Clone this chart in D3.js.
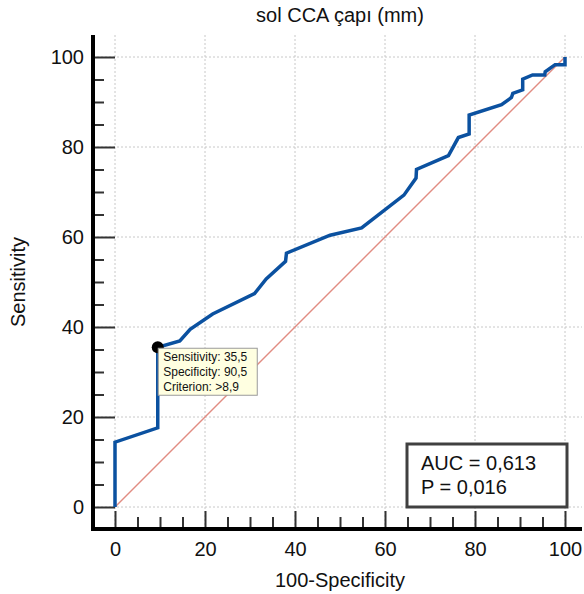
<!DOCTYPE html>
<html>
<head>
<meta charset="utf-8">
<script src="https://cdn.jsdelivr.net/npm/d3@7"></script>
<style>
  html, body { margin: 0; padding: 0; background: #fff; }
  svg { display: block; font-family: "Liberation Sans", Arial, sans-serif; }
</style>
</head>
<body>
<svg id="chart" width="584" height="594"></svg>
<script>
// ---- Data ----
const fpr = [0, 0, 9.5, 9.5, 14.4, 16.7, 21.7, 31.0, 33.6, 37.9, 38.1, 47.8, 54.8, 64.2, 66.9, 67.0, 74.1, 76.3, 78.7, 78.7, 85.9, 88.1, 88.4, 90.6, 90.6, 92.8, 95.5, 95.6, 97.8, 100, 100];
const tpr = [0, 14.4, 17.6, 35.5, 36.9, 39.5, 42.9, 47.4, 50.7, 54.6, 56.4, 60.4, 62.0, 69.3, 73.1, 75.0, 78.1, 82.1, 82.9, 87.1, 89.4, 91.0, 91.9, 92.7, 95.1, 96.0, 96.0, 96.7, 98.3, 98.3, 100];
const diagX = [0, 100];
const diagY = [0, 100];
const majorTicks = [0, 20, 40, 60, 80, 100];
const minorTicks = [5, 10, 15, 25, 30, 35, 45, 50, 55, 65, 70, 75, 85, 90, 95];
const optPoint = { spec: 9.5, sens: 35.5 };
const tooltipLines = ["Sensitivity: 35,5", "Specificity: 90,5", "Criterion: >8,9"];
const statLines = ["AUC = 0,613", "P = 0,016"];
const title = "sol CCA çapı (mm)";
const xLabel = "100-Specificity";
const yLabel = "Sensitivity";

// ---- Layout ----
const svg = d3.select("#chart");
const x = d3.scaleLinear().domain([0, 100]).range([115, 565]);
const y = d3.scaleLinear().domain([0, 100]).range([507, 57]);
const plotLeft = 93, plotRight = 582, plotTop = 35, plotBottom = 529;
const FONT = 20;

// gridlines
const grid = svg.append("g");
grid.selectAll(".gx").data(majorTicks).join("line")
  .attr("x1", d => x(d)).attr("x2", d => x(d))
  .attr("y1", plotTop).attr("y2", plotBottom)
  .attr("stroke", "#c8c8c8").attr("stroke-width", 1).attr("stroke-dasharray", "2,2");
grid.selectAll(".gy").data(majorTicks).join("line")
  .attr("y1", d => y(d)).attr("y2", d => y(d))
  .attr("x1", plotLeft).attr("x2", plotRight)
  .attr("stroke", "#c8c8c8").attr("stroke-width", 1).attr("stroke-dasharray", "2,2");

// diagonal reference line
svg.append("path")
  .datum(diagX.map((d, i) => [d, diagY[i]]))
  .attr("d", d3.line().x(d => x(d[0])).y(d => y(d[1])))
  .attr("fill", "none")
  .attr("stroke", "rgb(225,140,130)")
  .attr("stroke-width", 1.4);

// axes: left
const gLeftMinor = svg.append("g").attr("transform", `translate(${plotLeft + 2},0)`)
  .call(d3.axisLeft(y).tickValues(minorTicks).tickSize(-9).tickFormat(""));
const gLeft = svg.append("g").attr("transform", `translate(${plotLeft + 2},0)`)
  .call(d3.axisLeft(y).tickValues(majorTicks).tickSize(-20).tickPadding(11));
// axes: bottom
const gBotMinor = svg.append("g").attr("transform", `translate(0,${plotBottom - 1})`)
  .call(d3.axisBottom(x).tickValues(minorTicks).tickSize(-11).tickFormat(""));
const gBot = svg.append("g").attr("transform", `translate(0,${plotBottom - 1})`)
  .call(d3.axisBottom(x).tickValues(majorTicks).tickSize(-17).tickPadding(14));

[gLeftMinor, gLeft, gBotMinor, gBot].forEach(g => {
  g.select(".domain").remove();
  g.selectAll(".tick line").attr("stroke", "#333").attr("stroke-width", 2);
  g.selectAll(".tick text").attr("fill", "#111").style("font-size", FONT + "px")
    .style("font-family", '"Liberation Sans", Arial, sans-serif');
});

// axis lines
svg.append("line").attr("x1", plotLeft).attr("x2", plotLeft)
  .attr("y1", plotTop).attr("y2", plotBottom + 2)
  .attr("stroke", "#000").attr("stroke-width", 4);
svg.append("line").attr("x1", plotLeft - 2).attr("x2", plotRight)
  .attr("y1", plotBottom).attr("y2", plotBottom)
  .attr("stroke", "#000").attr("stroke-width", 4);

// ROC curve
const pts = fpr.map((f, i) => [f, tpr[i]]);
svg.append("path")
  .datum(pts)
  .attr("d", d3.line().x(d => x(d[0])).y(d => y(d[1])))
  .attr("fill", "none").attr("stroke", "#0b51a0").attr("stroke-width", 3.5)
  .attr("stroke-linejoin", "miter");

// optimal point
svg.append("circle").attr("cx", x(optPoint.spec)).attr("cy", y(optPoint.sens))
  .attr("r", 6).attr("fill", "#000");

// tooltip
const tx = x(optPoint.spec) + 0.5, ty = y(optPoint.sens) + 1;
svg.append("rect").attr("x", tx).attr("y", ty).attr("width", 99).attr("height", 47)
  .attr("fill", "#ffffe1").attr("stroke", "#9a9a9a").attr("stroke-width", 1);
svg.append("g").selectAll("text").data(tooltipLines).join("text")
  .attr("x", tx + 5).attr("y", (d, i) => ty + 13 + i * 15)
  .style("font-size", "12px").attr("fill", "#111").text(d => d);

// AUC box
svg.append("rect").attr("x", 407).attr("y", 444).attr("width", 160).attr("height", 63)
  .attr("fill", "#fff").attr("stroke", "#404040").attr("stroke-width", 3);
svg.append("g").selectAll("text").data(statLines).join("text")
  .attr("x", 421).attr("y", (d, i) => 470 + i * 24)
  .style("font-size", "20px").attr("fill", "#111").text(d => d);

// titles
svg.append("text").attr("x", x(50)).attr("y", 22).attr("text-anchor", "middle")
  .style("font-size", FONT + "px").attr("fill", "#111").text(title);
svg.append("text").attr("x", x(50)).attr("y", 587).attr("text-anchor", "middle")
  .style("font-size", FONT + "px").attr("fill", "#111").text(xLabel);
svg.append("text").attr("transform", `translate(25,${y(50)}) rotate(-90)`)
  .attr("text-anchor", "middle")
  .style("font-size", FONT + "px").attr("fill", "#111").text(yLabel);
</script>
</body>
</html>
